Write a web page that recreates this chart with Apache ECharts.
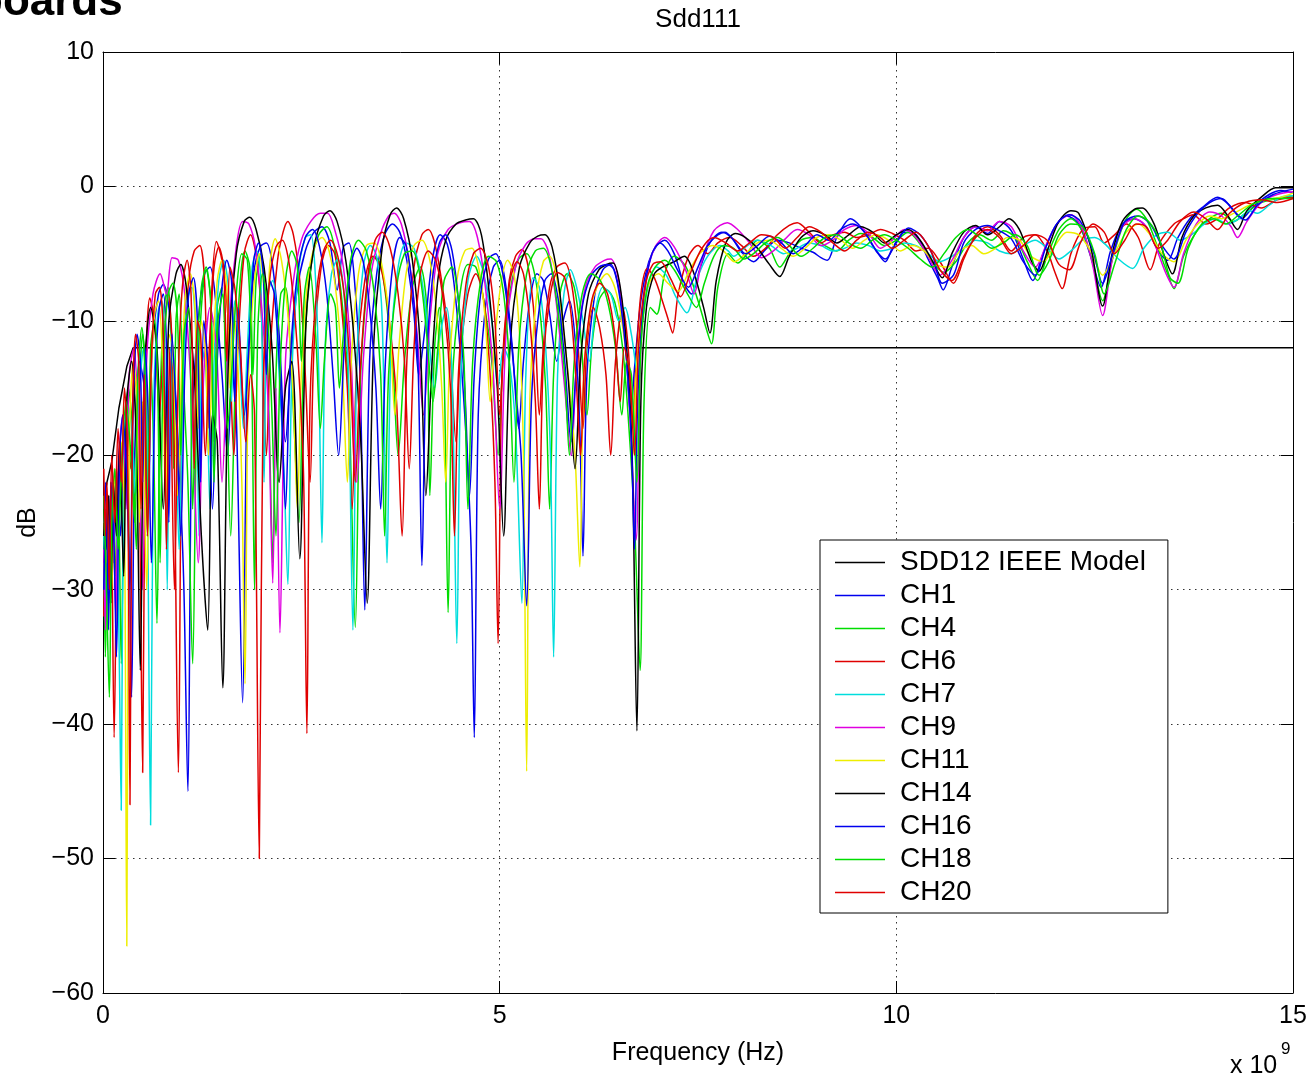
<!DOCTYPE html>
<html>
<head>
<meta charset="utf-8">
<title>Sdd111</title>
<script src="https://cdn.jsdelivr.net/npm/echarts@6/dist/echarts.min.js"></script>
<style>
  html, body { margin: 0; padding: 0; background: #ffffff; }
  #chart { width: 1312px; height: 1080px; }
</style>
</head>
<body>
<div id="chart"></div>
<script>
// Differential return loss (Sdd11) of the measured channels against the IEEE limit.
// Frequencies are in GHz (axis shown as x 10^9 Hz), magnitudes in dB.

const xTicks = [0, 5, 10, 15];
const yTicks = [-60, -50, -40, -30, -20, -10, 0, 10];

const seriesNames = ['SDD12 IEEE Model', 'CH1', 'CH4', 'CH6', 'CH7', 'CH9', 'CH11', 'CH14', 'CH16', 'CH18', 'CH20'];
const seriesColors = ['#000000', '#0000ee', '#00dd00', '#e00000', '#00dddd', '#e000e0', '#eeee00', '#000000', '#0000ee', '#00dd00', '#e00000'];

const ieeeModel = [[0.01,-23.5],[0.05,-22],[0.11,-20.5],[0.2,-16.5],[0.3,-13.4],[0.38,-12],[15,-12]];

const ch1 = [[0.01,-25],[0.03,-22],[0.06,-30],[0.09,-23],[0.13,-28],[0.17,-21],[0.22,-26],[0.27,-18],[0.32,-23],[0.36,-38],[0.4,-20],[0.46,-13],[0.52,-15],[0.57,-24],[0.62,-12],[0.7,-8],[0.76,-7.3],[0.83,-9],[0.9,-14],[0.97,-22],[1.02,-30],[1.07,-45],[1.12,-18],[1.2,-10],[1.28,-6.5],[1.35,-6],[1.42,-8.5],[1.5,-14],[1.57,-20],[1.63,-14],[1.68,-17],[1.76,-38.4],[1.82,-14],[1.9,-6.5],[1.98,-4.5],[2.06,-4.2],[2.14,-6],[2.22,-11],[2.3,-19],[2.36,-14],[2.44,-8],[2.55,-4.8],[2.66,-3.4],[2.76,-3.0],[2.86,-4.2],[2.95,-7.7],[3.03,-4.5],[3.1,-4.2],[3.17,-7],[3.24,-14],[3.3,-31.5],[3.36,-13],[3.45,-6.5],[3.55,-3.6],[3.65,-2.8],[3.74,-3.4],[3.83,-5.5],[3.92,-9.5],[3.98,-14],[4.05,-11],[4.15,-5.5],[4.25,-3.6],[4.34,-4.3],[4.42,-7],[4.5,-12],[4.58,-19],[4.64,-27],[4.68,-41],[4.73,-17],[4.82,-9],[4.92,-6],[5.0,-5.5],[5.08,-7.5],[5.16,-12],[5.24,-18],[5.3,-13],[5.38,-8.5],[5.47,-6.5],[5.55,-7],[5.63,-9.5],[5.72,-13],[5.8,-10],[5.88,-8.5],[5.96,-12],[6.01,-18],[6.05,-27.5],[6.1,-14],[6.2,-8],[6.3,-6.2],[6.4,-5.8],[6.5,-7.5],[6.58,-11],[6.65,-17],[6.7,-13.5],[6.78,-8.5],[6.88,-5.6],[6.98,-4.4],[7.08,-4.0],[7.2,-5.0],[7.32,-7.2],[7.42,-8],[7.52,-6.2],[7.65,-4.2],[7.8,-3.4],[7.92,-3.8],[8.05,-4.9],[8.2,-5.6],[8.35,-4.7],[8.5,-4.0],[8.65,-4.2],[8.8,-4.6],[8.95,-4.9],[9.05,-5.3],[9.13,-5.5],[9.25,-3.8],[9.42,-2.4],[9.55,-3.0],[9.68,-4.2],[9.77,-5.0],[9.86,-5.6],[9.95,-4.6],[10.1,-3.4],[10.25,-3.6],[10.4,-5.4],[10.52,-6.8],[10.59,-7.7],[10.7,-6.0],[10.85,-3.8],[11.0,-3.0],[11.15,-3.5],[11.3,-2.6],[11.45,-3.3],[11.6,-5.4],[11.72,-7.0],[11.85,-5.0],[12.0,-3.0],[12.15,-2.2],[12.3,-2.8],[12.45,-5.2],[12.58,-7.5],[12.7,-4.8],[12.85,-2.8],[13.0,-2.4],[13.15,-3.0],[13.3,-4.8],[13.42,-5.5],[13.55,-3.8],[13.7,-2.4],[13.85,-1.6],[14.05,-0.8],[14.2,-1.4],[14.35,-2.4],[14.5,-1.5],[14.7,-0.6],[14.85,-0.3],[15,-0.5]];

const ch4 = [[0.01,-28],[0.03,-35],[0.06,-26],[0.09,-31],[0.12,-24],[0.15,-29],[0.19,-22],[0.23,-35.5],[0.27,-19],[0.32,-15],[0.37,-18],[0.42,-27],[0.46,-15],[0.5,-11],[0.54,-14],[0.57,-24],[0.6,-13],[0.64,-20],[0.68,-32.5],[0.72,-16],[0.77,-9],[0.82,-7.5],[0.86,-11],[0.89,-21],[0.92,-10],[0.96,-8],[1.0,-13],[1.07,-22],[1.13,-35.5],[1.18,-17],[1.24,-9],[1.3,-6.2],[1.36,-8.5],[1.4,-19],[1.44,-9],[1.5,-7.5],[1.55,-13],[1.61,-26],[1.67,-14],[1.73,-7],[1.79,-4.8],[1.85,-6],[1.89,-14],[1.93,-7],[1.99,-5],[2.05,-9],[2.1,-19],[2.14,-28],[2.18,-14],[2.24,-8],[2.3,-7.5],[2.36,-12],[2.41,-18],[2.47,-25],[2.53,-13],[2.62,-6],[2.72,-3.6],[2.82,-3.0],[2.92,-4.6],[3.02,-9],[3.1,-16],[3.18,-32.8],[3.24,-15],[3.33,-7.5],[3.42,-5.2],[3.5,-5.8],[3.58,-9],[3.66,-14],[3.72,-20],[3.8,-13],[3.9,-7.5],[4.0,-6],[4.08,-9],[4.12,-23],[4.18,-12],[4.24,-9],[4.3,-14],[4.35,-31.7],[4.4,-15],[4.5,-8],[4.6,-5.8],[4.7,-6],[4.8,-8.5],[4.9,-13],[4.98,-20],[5.04,-13],[5.14,-7.5],[5.24,-5.4],[5.34,-5.0],[5.44,-6.5],[5.52,-10],[5.58,-15],[5.63,-24],[5.68,-14],[5.76,-8],[5.85,-6.5],[5.94,-7.5],[6.02,-11],[6.1,-17],[6.16,-12],[6.25,-8.5],[6.35,-7.7],[6.45,-8.6],[6.55,-12],[6.63,-18],[6.7,-25],[6.77,-36],[6.82,-16],[6.9,-9],[6.98,-9.5],[7.08,-6.5],[7.2,-5.2],[7.35,-6.0],[7.5,-8.5],[7.6,-10.5],[7.67,-11.7],[7.75,-7.5],[7.88,-5.0],[8.0,-5.7],[8.12,-5.0],[8.25,-4.0],[8.4,-4.6],[8.53,-6.0],[8.65,-5.0],[8.8,-4.0],[8.95,-3.8],[9.1,-4.4],[9.25,-4.8],[9.4,-4.0],[9.55,-3.5],[9.7,-3.8],[9.85,-4.4],[10.0,-4.0],[10.15,-3.4],[10.3,-4.3],[10.45,-5.6],[10.6,-6.4],[10.75,-5.6],[10.9,-4.2],[11.05,-3.6],[11.2,-4.0],[11.35,-3.3],[11.5,-3.8],[11.65,-5.6],[11.78,-7.0],[11.9,-5.2],[12.05,-3.2],[12.2,-2.4],[12.35,-3.4],[12.48,-5.8],[12.6,-8.5],[12.72,-5.5],[12.88,-2.6],[13.03,-1.7],[13.15,-2.4],[13.3,-4.6],[13.42,-6.5],[13.5,-7.6],[13.62,-5.2],[13.78,-3.4],[13.95,-2.4],[14.1,-2.0],[14.25,-2.6],[14.4,-2.0],[14.6,-1.2],[14.8,-0.9],[15,-0.7]];

const ch6 = [[0.01,-32],[0.04,-25],[0.07,-29],[0.1,-22],[0.14,-41],[0.18,-24],[0.22,-19],[0.26,-23],[0.3,-17],[0.35,-21],[0.4,-14],[0.45,-18],[0.5,-43.6],[0.54,-14],[0.59,-8.3],[0.65,-10],[0.71,-17],[0.76,-12],[0.82,-8],[0.88,-13],[0.95,-43.6],[1.0,-14],[1.08,-7],[1.15,-4.8],[1.22,-4.4],[1.28,-7],[1.33,-18],[1.37,-8],[1.43,-4.1],[1.5,-5.5],[1.58,-10],[1.65,-20],[1.7,-12],[1.78,-5],[1.86,-3.6],[1.94,-5.5],[2.0,-10],[2.06,-20],[2.11,-12],[2.2,-5.5],[2.27,-3.4],[2.33,-2.6],[2.4,-3.6],[2.48,-7],[2.55,-14],[2.61,-22],[2.66,-12],[2.75,-6],[2.84,-4.4],[2.92,-5],[3.0,-8.5],[3.08,-15],[3.14,-24],[3.2,-13],[3.3,-7],[3.4,-5.2],[3.5,-6],[3.6,-9.5],[3.7,-16],[3.77,-26],[3.83,-13],[3.92,-6],[4.02,-3.6],[4.1,-3.2],[4.18,-4.2],[4.28,-7.5],[4.37,-12],[4.45,-19],[4.5,-13],[4.6,-8],[4.7,-6.5],[4.8,-8.5],[4.88,-14],[4.94,-22],[4.98,-34],[5.03,-14],[5.12,-7],[5.2,-5.2],[5.28,-4.7],[5.36,-6],[5.44,-10],[5.5,-17],[5.55,-12],[5.63,-7.5],[5.72,-6],[5.82,-5.7],[5.9,-7],[5.98,-11],[6.05,-18],[6.1,-12],[6.18,-9],[6.26,-10.5],[6.34,-14],[6.4,-20],[6.46,-13],[6.55,-9],[6.62,-12],[6.68,-18],[6.72,-13],[6.78,-8],[6.86,-6.1],[6.95,-6.8],[7.05,-8.5],[7.13,-10],[7.18,-10.9],[7.25,-8],[7.38,-5.2],[7.5,-4.4],[7.62,-5.0],[7.75,-4.2],[7.9,-3.8],[8.05,-4.4],[8.2,-5.2],[8.35,-4.6],[8.5,-3.6],[8.65,-2.9],[8.75,-2.7],[8.9,-3.4],[9.05,-4.2],[9.2,-3.6],[9.35,-3.4],[9.5,-3.8],[9.65,-3.6],[9.8,-3.2],[9.95,-3.5],[10.1,-4.0],[10.25,-4.8],[10.4,-4.6],[10.55,-5.6],[10.72,-7.2],[10.85,-5.4],[11.0,-3.6],[11.15,-3.0],[11.3,-3.6],[11.45,-4.8],[11.6,-3.8],[11.75,-3.6],[11.9,-4.8],[12.0,-6.4],[12.09,-7.6],[12.2,-5.0],[12.35,-3.2],[12.5,-3.0],[12.62,-4.2],[12.75,-3.6],[12.9,-2.8],[13.05,-3.8],[13.2,-6.2],[13.32,-4.2],[13.5,-2.8],[13.62,-2.4],[13.74,-2.1],[13.9,-2.8],[14.05,-2.4],[14.2,-1.6],[14.4,-1.2],[14.6,-1.6],[14.8,-1.0],[15,-0.8]];

const ch7 = [[0.01,-26],[0.04,-31],[0.07,-24],[0.1,-28],[0.13,-22],[0.17,-26],[0.2,-33],[0.23,-46.4],[0.26,-22],[0.31,-16],[0.36,-18],[0.41,-23],[0.46,-15],[0.51,-12],[0.55,-17],[0.6,-47.5],[0.64,-16],[0.69,-9.5],[0.74,-8.5],[0.78,-13],[0.81,-30],[0.85,-12],[0.9,-14],[0.96,-27],[1.01,-14],[1.06,-8.5],[1.12,-7.5],[1.17,-11],[1.21,-26],[1.25,-12],[1.3,-14],[1.35,-24],[1.4,-13],[1.46,-7],[1.52,-5.5],[1.58,-7.5],[1.62,-16],[1.66,-8.5],[1.71,-11],[1.77,-18],[1.82,-12],[1.88,-6],[1.94,-4.8],[1.99,-7],[2.03,-22],[2.07,-8],[2.14,-7],[2.22,-14],[2.28,-21],[2.33,-29.6],[2.38,-14],[2.46,-6.5],[2.55,-3.8],[2.62,-3.6],[2.68,-7],[2.72,-14],[2.76,-26.5],[2.8,-12],[2.88,-6.5],[2.96,-5.4],[3.03,-7.5],[3.09,-13],[3.15,-33],[3.2,-13],[3.28,-6],[3.37,-4.4],[3.45,-5.2],[3.52,-10],[3.58,-28],[3.63,-12],[3.72,-6],[3.82,-4.2],[3.92,-4.6],[4.02,-7],[4.1,-11],[4.18,-15],[4.25,-11],[4.33,-9],[4.4,-14],[4.46,-34],[4.51,-14],[4.6,-7],[4.71,-5.2],[4.8,-6.5],[4.9,-10],[4.98,-15],[5.05,-12],[5.12,-13],[5.2,-18],[5.28,-31],[5.33,-14],[5.42,-6.8],[5.5,-7.5],[5.58,-12],[5.64,-20],[5.68,-35],[5.73,-14],[5.81,-8],[5.89,-6.2],[5.97,-7.5],[6.05,-10],[6.13,-13],[6.2,-9.5],[6.3,-7.5],[6.4,-8],[6.5,-10],[6.58,-9],[6.66,-11],[6.74,-14],[6.8,-10],[6.88,-7.2],[6.98,-6.0],[7.1,-6.6],[7.22,-8.2],[7.36,-9.4],[7.48,-7.0],[7.62,-5.2],[7.78,-4.4],[7.88,-4.8],[7.95,-5.2],[8.08,-4.6],[8.25,-4.0],[8.42,-4.4],[8.58,-5.0],[8.75,-4.6],[8.9,-4.2],[9.05,-4.4],[9.2,-4.8],[9.35,-4.6],[9.5,-4.2],[9.65,-4.4],[9.8,-4.8],[9.95,-4.6],[10.1,-4.2],[10.25,-4.4],[10.4,-5.0],[10.55,-5.6],[10.7,-5.2],[10.85,-4.6],[11.0,-4.0],[11.15,-4.2],[11.3,-4.8],[11.45,-5.0],[11.6,-4.4],[11.75,-4.0],[11.9,-4.6],[12.05,-5.4],[12.2,-4.8],[12.35,-4.0],[12.5,-3.8],[12.65,-4.4],[12.8,-5.4],[12.98,-6.1],[13.12,-4.6],[13.28,-3.6],[13.42,-3.4],[13.58,-4.0],[13.72,-3.6],[13.88,-2.8],[14.02,-2.4],[14.18,-2.8],[14.32,-2.4],[14.45,-1.8],[14.55,-2.0],[14.7,-1.4],[14.85,-0.8],[15,-0.7]];

const ch9 = [[0.01,-27],[0.03,-33],[0.06,-24],[0.09,-29],[0.12,-21],[0.16,-32],[0.2,-20],[0.25,-17],[0.29,-24],[0.33,-14],[0.39,-12],[0.44,-17],[0.5,-30],[0.55,-13],[0.63,-8],[0.72,-6.5],[0.8,-8],[0.87,-5.3],[0.95,-5.5],[1.03,-8],[1.12,-16],[1.2,-28],[1.27,-14],[1.35,-9],[1.43,-12],[1.5,-22],[1.58,-11],[1.68,-4.5],[1.76,-2.6],[1.84,-2.8],[1.92,-4.5],[2.0,-9],[2.08,-16],[2.14,-29.5],[2.18,-15],[2.23,-33.2],[2.3,-13],[2.4,-7],[2.5,-4],[2.62,-2.6],[2.74,-2.0],[2.83,-2.0],[2.92,-3.2],[3.03,-6],[3.12,-12],[3.2,-22],[3.28,-13],[3.38,-6.5],[3.5,-3.5],[3.6,-2.2],[3.67,-2.0],[3.76,-2.8],[3.87,-6],[3.96,-11],[4.04,-17],[4.12,-10],[4.22,-5],[4.35,-3.2],[4.5,-2.7],[4.62,-2.6],[4.72,-3.8],[4.82,-7.5],[4.92,-14],[5.0,-24],[5.08,-11],[5.2,-6],[5.33,-4.3],[5.44,-3.9],[5.52,-3.9],[5.62,-5],[5.72,-9],[5.82,-15],[5.9,-20],[5.98,-12],[6.08,-7.5],[6.2,-6],[6.32,-5.5],[6.4,-5.4],[6.5,-7],[6.58,-11],[6.65,-18],[6.72,-26.3],[6.78,-12],[6.86,-6.5],[6.96,-4.5],[7.08,-3.8],[7.2,-4.5],[7.35,-6.3],[7.45,-8],[7.55,-5.5],[7.7,-3.3],[7.87,-2.7],[8.0,-3.2],[8.15,-4.2],[8.3,-5.3],[8.45,-4.8],[8.6,-3.9],[8.75,-3.2],[8.9,-3.6],[9.05,-4.4],[9.2,-4.0],[9.35,-3.2],[9.5,-2.9],[9.65,-3.5],[9.8,-4.6],[9.95,-4.0],[10.1,-3.2],[10.25,-3.8],[10.4,-5.2],[10.55,-6.6],[10.7,-5.5],[10.85,-3.8],[11.0,-3.0],[11.15,-3.3],[11.3,-2.6],[11.45,-3.0],[11.6,-4.8],[11.75,-6.0],[11.9,-4.2],[12.05,-2.6],[12.2,-2.1],[12.35,-3.2],[12.48,-6],[12.6,-9.6],[12.72,-5.5],[12.85,-3.0],[13.0,-2.4],[13.12,-2.8],[13.25,-4.2],[13.4,-6.5],[13.5,-7.5],[13.62,-5],[13.78,-2.8],[13.95,-1.9],[14.1,-2.2],[14.22,-3.0],[14.3,-3.8],[14.42,-2.6],[14.6,-1.2],[14.8,-0.6],[15,-0.4]];

const ch11 = [[0.01,-24],[0.04,-28],[0.07,-23],[0.11,-30],[0.15,-21],[0.19,-27],[0.23,-19],[0.27,-24],[0.3,-56.5],[0.33,-20],[0.38,-13],[0.42,-15],[0.46,-25],[0.5,-16],[0.55,-30],[0.6,-15],[0.65,-9.5],[0.7,-8.5],[0.75,-13],[0.79,-24],[0.83,-11],[0.88,-12],[0.94,-23],[0.99,-14],[1.04,-8],[1.1,-6.5],[1.16,-9],[1.2,-18],[1.24,-10],[1.29,-12],[1.33,-20],[1.38,-13],[1.44,-7],[1.5,-5.5],[1.56,-7.5],[1.6,-15],[1.64,-9],[1.69,-12],[1.75,-22],[1.79,-37],[1.83,-15],[1.9,-7.5],[1.97,-5],[2.02,-7],[2.06,-13],[2.1,-6],[2.17,-3.9],[2.25,-5.5],[2.33,-9.5],[2.4,-16],[2.45,-24],[2.5,-14],[2.58,-7],[2.67,-4.4],[2.76,-3.8],[2.85,-4.8],[2.94,-8],[3.02,-14],[3.08,-22],[3.13,-13],[3.22,-6.5],[3.32,-4.4],[3.42,-4.2],[3.52,-6],[3.61,-10],[3.68,-17],[3.73,-12],[3.82,-6.5],[3.92,-4.4],[4.02,-4.0],[4.12,-5.5],[4.2,-9],[4.27,-15],[4.32,-22],[4.37,-13],[4.46,-7],[4.56,-4.8],[4.65,-4.6],[4.74,-6.2],[4.82,-10],[4.88,-16],[4.93,-12],[5.01,-7.5],[5.1,-5.5],[5.18,-6.5],[5.25,-11],[5.3,-20],[5.34,-43.5],[5.38,-16],[5.46,-8.5],[5.55,-5.6],[5.63,-5.2],[5.72,-6.8],[5.8,-10.5],[5.88,-15],[5.95,-20],[6.01,-28.3],[6.06,-14],[6.15,-9],[6.25,-7.2],[6.35,-6.5],[6.45,-7.5],[6.54,-10],[6.62,-14],[6.68,-20],[6.72,-14],[6.8,-9],[6.9,-7],[7.0,-6.5],[7.12,-7.2],[7.25,-7.8],[7.38,-6.4],[7.52,-5.0],[7.68,-4.4],[7.82,-4.8],[7.96,-5.6],[8.1,-5.0],[8.25,-4.2],[8.4,-4.0],[8.55,-4.6],[8.7,-5.2],[8.85,-4.6],[9.0,-3.8],[9.15,-3.6],[9.3,-4.0],[9.45,-4.6],[9.6,-4.0],[9.75,-3.6],[9.9,-4.0],[10.05,-4.8],[10.2,-4.4],[10.35,-4.8],[10.5,-5.8],[10.65,-6.0],[10.8,-4.8],[10.95,-4.4],[11.1,-5.0],[11.25,-4.6],[11.4,-3.8],[11.55,-4.0],[11.7,-5.2],[11.85,-5.6],[12.0,-4.4],[12.15,-3.4],[12.3,-3.6],[12.45,-4.8],[12.6,-6.6],[12.75,-5.0],[12.9,-3.4],[13.05,-2.8],[13.2,-3.6],[13.35,-5.0],[13.5,-5.6],[13.65,-4.0],[13.8,-2.8],[13.95,-2.2],[14.1,-2.4],[14.25,-2.0],[14.45,-1.4],[14.65,-1.0],[14.85,-0.8],[15,-0.5]];

const ch14 = [[0.01,-24],[0.04,-27],[0.07,-23],[0.1,-31],[0.13,-22],[0.17,-26],[0.21,-19],[0.26,-29],[0.3,-16],[0.36,-13],[0.42,-19],[0.47,-36],[0.52,-14],[0.6,-9],[0.68,-12],[0.76,-24],[0.83,-10],[0.92,-6.5],[0.98,-5.8],[1.05,-7.5],[1.15,-14],[1.24,-26],[1.32,-33],[1.38,-17],[1.44,-19],[1.51,-37.3],[1.58,-13],[1.68,-5],[1.78,-2.6],[1.85,-2.3],[1.93,-3.2],[2.03,-6],[2.13,-12],[2.22,-22],[2.3,-15],[2.38,-13],[2.48,-27.7],[2.56,-10],[2.66,-4.5],[2.78,-2.2],[2.86,-1.8],[2.95,-2.6],[3.06,-5.5],[3.16,-11],[3.25,-19],[3.33,-31],[3.41,-12],[3.52,-4.5],[3.62,-2.1],[3.7,-1.6],[3.79,-2.4],[3.9,-5.5],[4.0,-12],[4.07,-23],[4.14,-14],[4.22,-7],[4.32,-4],[4.45,-2.8],[4.57,-2.5],[4.67,-2.4],[4.77,-3.6],[4.87,-8],[4.97,-15],[5.05,-26],[5.13,-12],[5.25,-6],[5.38,-4.2],[5.48,-3.7],[5.57,-3.6],[5.66,-4.5],[5.76,-8],[5.86,-14],[5.95,-21],[6.02,-13],[6.12,-8],[6.25,-6.2],[6.35,-5.8],[6.43,-5.7],[6.52,-7.5],[6.6,-12],[6.67,-20],[6.73,-40.5],[6.78,-16],[6.85,-9],[6.95,-6.5],[7.05,-6.0],[7.2,-5.6],[7.33,-5.2],[7.45,-6.5],[7.57,-9],[7.65,-10.9],[7.73,-7],[7.85,-4.2],[7.97,-3.5],[8.1,-3.8],[8.25,-4.6],[8.4,-5.8],[8.53,-6.7],[8.65,-5.2],[8.8,-3.8],[8.95,-3.3],[9.1,-3.6],[9.25,-4.2],[9.4,-3.6],[9.55,-3.0],[9.7,-3.4],[9.85,-4.2],[10.0,-3.6],[10.15,-3.2],[10.3,-4.0],[10.45,-5.5],[10.58,-6.8],[10.7,-5.0],[10.85,-3.4],[11.0,-2.9],[11.15,-3.6],[11.3,-3.0],[11.42,-2.4],[11.55,-3.2],[11.7,-5.5],[11.8,-6.3],[11.92,-4.5],[12.05,-2.6],[12.2,-1.8],[12.3,-2.0],[12.45,-4.5],[12.6,-8.9],[12.72,-5],[12.85,-2.6],[13.0,-1.7],[13.1,-1.6],[13.25,-2.8],[13.38,-5.2],[13.48,-6.5],[13.6,-3.8],[13.75,-2.2],[13.9,-1.6],[14.05,-1.4],[14.18,-2.2],[14.3,-3.2],[14.42,-1.8],[14.6,-0.8],[14.78,-0.1],[15,-0.1]];

const ch16 = [[0.01,-30],[0.04,-24],[0.07,-33],[0.1,-22],[0.14,-27],[0.17,-35],[0.21,-20],[0.25,-17],[0.3,-22],[0.34,-30],[0.38,-16],[0.43,-11],[0.47,-13],[0.5,-22],[0.53,-12],[0.57,-17],[0.61,-28],[0.66,-14],[0.71,-9],[0.76,-8],[0.8,-12],[0.83,-25],[0.87,-11],[0.93,-18],[0.98,-26],[1.03,-14],[1.08,-8],[1.14,-6.8],[1.19,-10],[1.23,-22],[1.27,-10],[1.32,-13],[1.38,-24],[1.44,-13],[1.5,-7.5],[1.56,-5.5],[1.62,-7],[1.66,-16],[1.7,-9],[1.78,-17],[1.84,-12],[1.9,-5.5],[1.96,-4.2],[2.02,-6.5],[2.06,-14],[2.1,-7],[2.16,-8],[2.24,-15],[2.3,-24],[2.36,-13],[2.45,-6.5],[2.55,-3.8],[2.64,-3.2],[2.73,-4.5],[2.82,-8],[2.9,-14],[2.97,-20],[3.04,-12],[3.12,-6],[3.2,-4.6],[3.28,-5.6],[3.36,-9],[3.44,-15],[3.5,-24],[3.56,-13],[3.65,-6],[3.74,-3.8],[3.82,-4.4],[3.9,-7.5],[3.97,-13],[4.02,-28.2],[4.07,-14],[4.15,-7],[4.24,-4.2],[4.32,-3.6],[4.4,-4.8],[4.48,-8.5],[4.56,-15],[4.62,-23],[4.68,-14],[4.76,-8],[4.86,-5.4],[4.95,-5.0],[5.04,-6.5],[5.12,-10],[5.2,-15],[5.27,-20],[5.34,-31.2],[5.4,-16],[5.48,-10],[5.57,-7],[5.65,-6.5],[5.74,-8.5],[5.82,-13],[5.9,-19],[5.96,-14],[6.04,-9],[6.14,-6.8],[6.25,-6.0],[6.36,-5.8],[6.44,-6.2],[6.52,-8.5],[6.6,-13],[6.66,-19],[6.7,-27],[6.74,-16],[6.82,-8],[6.92,-5.0],[7.02,-4.2],[7.12,-4.8],[7.25,-6.3],[7.38,-7.5],[7.5,-6.0],[7.62,-4.4],[7.75,-3.6],[7.84,-3.4],[7.95,-4.0],[8.1,-5.0],[8.25,-4.4],[8.4,-3.7],[8.55,-4.2],[8.7,-5.0],[8.85,-4.4],[9.0,-3.6],[9.15,-4.0],[9.3,-3.2],[9.45,-2.8],[9.6,-3.4],[9.75,-4.8],[9.86,-5.4],[10.0,-4.2],[10.15,-3.1],[10.3,-3.6],[10.45,-5.0],[10.58,-7.2],[10.72,-6.6],[10.85,-4.2],[11.0,-3.2],[11.15,-2.9],[11.3,-3.3],[11.45,-3.9],[11.6,-5.6],[11.75,-6.6],[11.88,-4.6],[12.02,-2.8],[12.18,-2.1],[12.32,-2.6],[12.48,-4.8],[12.6,-7.2],[12.72,-5.2],[12.88,-2.6],[13.05,-2.2],[13.2,-2.8],[13.35,-4.4],[13.5,-5.4],[13.65,-3.4],[13.8,-2.0],[13.95,-1.2],[14.1,-0.9],[14.25,-1.8],[14.4,-2.5],[14.55,-1.4],[14.75,-0.6],[15,-0.2]];

const ch18 = [[0.01,-23],[0.04,-29],[0.08,-38],[0.11,-25],[0.15,-21],[0.19,-27],[0.24,-20],[0.29,-16],[0.34,-19],[0.4,-25],[0.44,-14],[0.49,-10.5],[0.53,-14],[0.56,-26],[0.6,-12],[0.65,-10],[0.69,-15],[0.72,-28],[0.76,-13],[0.82,-8],[0.88,-7.2],[0.94,-10],[0.98,-20],[1.02,-11],[1.08,-9],[1.13,-24],[1.18,-13],[1.24,-7.5],[1.3,-6],[1.36,-9],[1.4,-22],[1.45,-10],[1.51,-8],[1.57,-18],[1.62,-14],[1.68,-8],[1.75,-5],[1.82,-5.5],[1.87,-12],[1.91,-30],[1.95,-11],[2.01,-6.5],[2.07,-9],[2.13,-17],[2.18,-26],[2.23,-14],[2.3,-7],[2.38,-4.8],[2.45,-6],[2.5,-13],[2.54,-8],[2.6,-6],[2.68,-11],[2.74,-18],[2.79,-13],[2.87,-8],[2.93,-9],[2.98,-15],[3.03,-11],[3.12,-5.5],[3.22,-4.0],[3.32,-4.8],[3.42,-8],[3.5,-14],[3.55,-26],[3.6,-14],[3.7,-7.5],[3.8,-5.0],[3.9,-4.8],[4.0,-6.8],[4.08,-11],[4.16,-16],[4.22,-12],[4.3,-7],[4.4,-6],[4.48,-8.5],[4.55,-13],[4.6,-24],[4.66,-13],[4.76,-7],[4.86,-5.2],[4.96,-5.6],[5.05,-8],[5.12,-13],[5.18,-22],[5.24,-12],[5.34,-6.5],[5.45,-4.8],[5.55,-4.6],[5.65,-6],[5.74,-9.5],[5.82,-14],[5.88,-20],[5.94,-13],[6.04,-8],[6.15,-6.5],[6.27,-7],[6.37,-8.8],[6.46,-12],[6.54,-17],[6.6,-13],[6.66,-14],[6.73,-22],[6.78,-12],[6.86,-7.5],[6.96,-6.0],[7.08,-5.5],[7.2,-6.2],[7.35,-7.8],[7.48,-9],[7.58,-7.2],[7.7,-5.2],[7.82,-4.4],[7.95,-4.6],[8.08,-5.4],[8.2,-5.0],[8.35,-4.2],[8.5,-3.8],[8.65,-4.4],[8.8,-5.2],[8.95,-4.6],[9.1,-3.8],[9.25,-3.6],[9.4,-4.2],[9.55,-4.6],[9.7,-4.0],[9.85,-3.6],[10.0,-4.0],[10.15,-4.6],[10.3,-5.4],[10.45,-6.0],[10.6,-5.0],[10.75,-3.8],[10.9,-3.2],[11.05,-3.8],[11.2,-4.6],[11.35,-4.2],[11.5,-3.6],[11.65,-4.4],[11.8,-6.6],[11.92,-5.6],[12.05,-3.6],[12.2,-2.8],[12.35,-3.0],[12.5,-5.0],[12.62,-8.0],[12.75,-5.8],[12.9,-3.2],[13.05,-2.2],[13.18,-2.6],[13.32,-4.0],[13.45,-6.8],[13.55,-7.2],[13.68,-4.6],[13.85,-2.8],[14.0,-2.4],[14.15,-2.8],[14.3,-2.2],[14.5,-1.3],[14.75,-0.9],[15,-0.9]];

const ch20 = [[0.01,-21],[0.03,-26],[0.05,-22],[0.08,-30],[0.11,-20],[0.15,-25],[0.19,-18],[0.23,-22],[0.27,-15],[0.31,-20],[0.34,-46],[0.37,-18],[0.41,-11],[0.45,-13],[0.48,-24],[0.52,-14],[0.56,-26],[0.61,-13],[0.66,-8],[0.71,-7.5],[0.76,-11],[0.8,-27],[0.84,-12],[0.9,-30],[0.95,-14],[1.0,-7.5],[1.06,-5.5],[1.11,-8],[1.15,-21],[1.19,-10],[1.23,-11],[1.29,-20],[1.34,-12],[1.4,-6],[1.46,-4.5],[1.52,-6],[1.56,-13],[1.6,-6],[1.66,-7.5],[1.73,-12],[1.8,-19],[1.86,-14],[1.91,-17],[1.97,-50],[2.02,-15],[2.1,-7],[2.18,-4.5],[2.26,-4.0],[2.34,-5.5],[2.41,-9],[2.48,-15],[2.53,-22],[2.57,-40.7],[2.61,-16],[2.69,-8],[2.78,-4.8],[2.87,-4.0],[2.96,-5.2],[3.05,-8.5],[3.12,-14],[3.18,-22],[3.24,-14],[3.33,-7],[3.43,-4.0],[3.52,-3.4],[3.62,-4.6],[3.72,-8],[3.8,-13],[3.86,-21],[3.92,-12],[4.0,-6.5],[4.1,-4.8],[4.2,-5.6],[4.3,-9],[4.38,-15],[4.43,-26],[4.48,-14],[4.57,-7.5],[4.67,-5],[4.76,-4.6],[4.86,-6],[4.94,-10],[5.0,-17],[5.05,-12],[5.13,-7],[5.22,-5.6],[5.3,-6.5],[5.38,-10],[5.45,-16],[5.5,-24],[5.55,-13],[5.64,-8],[5.73,-6.4],[5.82,-6.8],[5.9,-9.5],[5.97,-15],[6.02,-20],[6.07,-13],[6.16,-8.5],[6.26,-7.2],[6.36,-8],[6.45,-11],[6.52,-16],[6.57,-12],[6.64,-14],[6.7,-20],[6.75,-12],[6.83,-7.5],[6.93,-5.8],[7.03,-5.6],[7.15,-6.8],[7.28,-8.2],[7.4,-6.5],[7.55,-4.6],[7.7,-3.8],[7.85,-4.2],[8.0,-4.8],[8.15,-4.2],[8.3,-3.6],[8.45,-3.8],[8.6,-4.6],[8.75,-3.8],[8.9,-3.0],[9.05,-3.4],[9.2,-4.2],[9.35,-4.8],[9.5,-4.0],[9.65,-3.4],[9.8,-3.8],[9.95,-4.6],[10.1,-4.0],[10.25,-3.4],[10.4,-4.4],[10.55,-6.2],[10.7,-7.0],[10.85,-5.2],[11.0,-3.8],[11.15,-3.2],[11.3,-3.8],[11.45,-5.0],[11.6,-4.4],[11.75,-3.6],[11.9,-4.0],[12.05,-5.8],[12.18,-6.2],[12.32,-4.2],[12.48,-2.8],[12.62,-3.4],[12.75,-5.0],[12.88,-4.0],[13.02,-2.8],[13.15,-3.0],[13.3,-4.6],[13.42,-4.0],[13.58,-2.6],[13.75,-1.9],[13.9,-2.4],[14.05,-3.2],[14.2,-2.0],[14.4,-1.2],[14.6,-1.0],[14.8,-1.2],[15,-0.9]];

const seriesData = [ieeeModel, ch1, ch4, ch6, ch7, ch9, ch11, ch14, ch16, ch18, ch20];

const FONT = '"Liberation Sans", Arial, Helvetica, sans-serif';
const minusSign = v => String(v).replace('-', '\u2212');

const gridBox = { left: 103, right: 19, top: 52, bottom: 87 };

// Shared look of the four framing axes (MATLAB-style box with inward ticks).
const frameLine = { show: true, onZero: false, lineStyle: { color: '#000', width: 1 } };
const frameTick = { show: true, inside: true, length: 12, lineStyle: { color: '#000' } };
const dottedGrid = { show: true, lineStyle: { color: '#333', width: 1, type: [1.5, 4.5] } };

const chart = echarts.init(document.getElementById('chart'), null, { renderer: 'canvas' });

const option = {
  animation: false,
  backgroundColor: '#ffffff',
  textStyle: { fontFamily: FONT, color: '#000' },
  grid: Object.assign({ containLabel: false }, gridBox),
  legend: {
    orient: 'vertical',
    left: 820,
    top: 540,
    padding: [6, 22, 4, 15],
    itemGap: 0,
    itemWidth: 50,
    itemHeight: 1.5,
    icon: 'rect',
    backgroundColor: '#ffffff',
    borderColor: '#000000',
    borderWidth: 1,
    selectedMode: false,
    textStyle: { fontFamily: FONT, fontSize: 28, color: '#000', lineHeight: 33, padding: [0, 0, 0, 10] },
    data: seriesNames
  },
  xAxis: [
    {
      type: 'value', position: 'bottom', min: xTicks[0], max: xTicks[xTicks.length - 1], interval: 5,
      name: 'Frequency (Hz)', nameLocation: 'middle', nameGap: 48,
      nameTextStyle: { fontFamily: FONT, fontSize: 25, color: '#000' },
      axisLine: frameLine,
      axisTick: frameTick,
      axisLabel: { fontFamily: FONT, fontSize: 25, color: '#000', margin: 11 },
      splitLine: dottedGrid
    },
    {
      type: 'value', position: 'top', min: xTicks[0], max: xTicks[xTicks.length - 1], interval: 5,
      axisLine: frameLine,
      axisTick: frameTick,
      axisLabel: { show: false },
      splitLine: { show: false }
    }
  ],
  yAxis: [
    {
      type: 'value', position: 'left', min: yTicks[0], max: yTicks[yTicks.length - 1], interval: 10,
      name: 'dB', nameLocation: 'middle', nameGap: 62, nameRotate: 90,
      nameTextStyle: { fontFamily: FONT, fontSize: 25, color: '#000' },
      axisLine: frameLine,
      axisTick: frameTick,
      axisLabel: { fontFamily: FONT, fontSize: 25, color: '#000', margin: 9, formatter: minusSign },
      splitLine: dottedGrid
    },
    {
      type: 'value', position: 'right', min: yTicks[0], max: yTicks[yTicks.length - 1], interval: 10,
      axisLine: frameLine,
      axisTick: frameTick,
      axisLabel: { show: false },
      splitLine: { show: false }
    }
  ],
  series: seriesNames.map((name, i) => ({
    name: name,
    type: 'line',
    xAxisIndex: 0,
    yAxisIndex: 0,
    data: seriesData[i],
    symbol: 'none',
    smooth: i === 0 ? false : 0.3,
    clip: true,
    lineStyle: { color: seriesColors[i], width: 1.5 },
    itemStyle: { color: seriesColors[i] },
    emphasis: { disabled: true }
  })),
  graphic: [
    {
      type: 'text', left: -24, top: -19, silent: true,
      style: { text: 'boards', font: 'bold 44px ' + FONT, fill: '#000' }
    },
    {
      type: 'text', x: 698, y: 20, silent: true,
      style: { text: 'Sdd111', font: '26px ' + FONT, fill: '#000', align: 'center', verticalAlign: 'middle' }
    },
    {
      type: 'text', x: 1230, y: 1066, silent: true,
      style: { text: 'x 10', font: '25px ' + FONT, fill: '#000', align: 'left', verticalAlign: 'middle' }
    },
    {
      type: 'text', x: 1281, y: 1049, silent: true,
      style: { text: '9', font: '17px ' + FONT, fill: '#000', align: 'left', verticalAlign: 'middle' }
    }
  ]
};

chart.setOption(option);
</script>
</body>
</html>
